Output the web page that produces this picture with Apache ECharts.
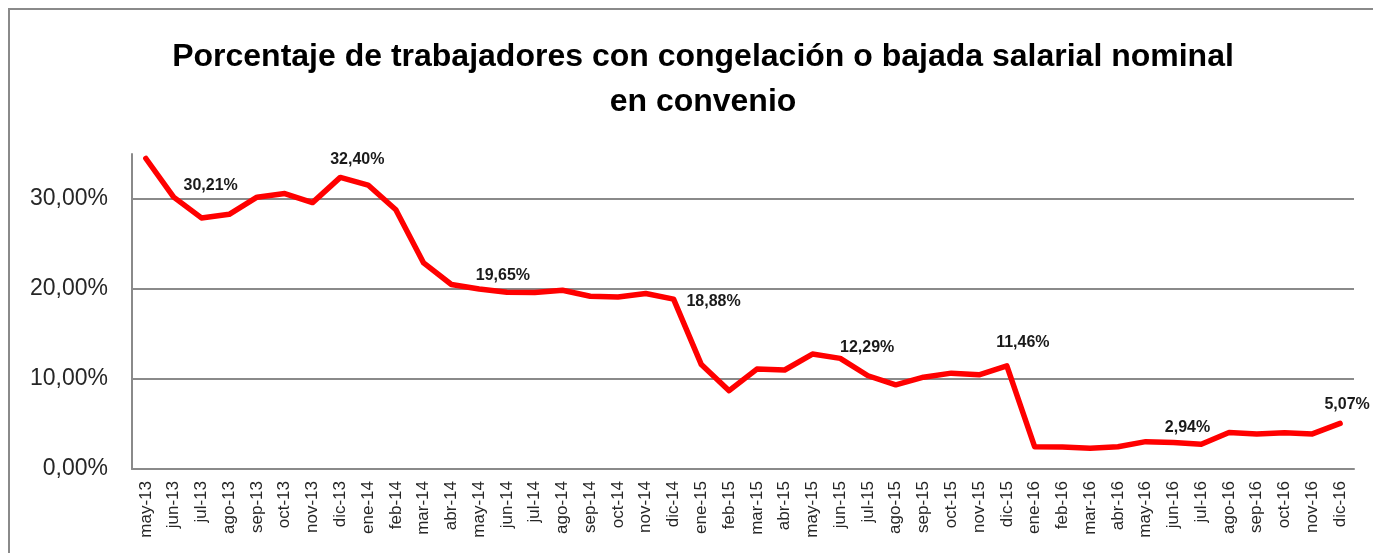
<!DOCTYPE html>
<html>
<head>
<meta charset="utf-8">
<script src="https://cdn.jsdelivr.net/npm/echarts@6/dist/echarts.min.js"></script>
<style>
html, body { margin: 0; padding: 0; background: #fff; }
#chart { position: absolute; left: 0; top: 0; width: 1373px; height: 553px; }
#frame { position: absolute; left: 8px; top: 8px; right: 0; bottom: 0;
         border-left: 2px solid #8a8a8a; border-top: 2px solid #8a8a8a; pointer-events: none; }
</style>
</head>
<body>
<div id="chart"></div>
<div id="frame"></div>
<script>
var months = ['may-13','jun-13','jul-13','ago-13','sep-13','oct-13','nov-13','dic-13',
    'ene-14','feb-14','mar-14','abr-14','may-14','jun-14','jul-14','ago-14','sep-14','oct-14','nov-14','dic-14',
    'ene-15','feb-15','mar-15','abr-15','may-15','jun-15','jul-15','ago-15','sep-15','oct-15','nov-15','dic-15',
    'ene-16','feb-16','mar-16','abr-16','may-16','jun-16','jul-16','ago-16','sep-16','oct-16','nov-16','dic-16'];

var porcentaje = [34.5, 30.21, 27.9, 28.3, 30.2, 30.6, 29.6, 32.40,
    31.55, 28.8, 22.9, 20.5, 20.0, 19.65, 19.6, 19.86, 19.2, 19.1, 19.5, 18.88,
    11.6, 8.7, 11.1, 11.0, 12.77, 12.29, 10.36, 9.35, 10.2, 10.65, 10.47, 11.46,
    2.48, 2.45, 2.3, 2.48, 3.04, 2.94, 2.75, 4.05, 3.9, 4.04, 3.9, 5.07];

// months that carry a value label
var labelled = ['jun-13', 'dic-13', 'jun-14', 'dic-14', 'jun-15', 'dic-15', 'jun-16', 'dic-16'];

// label placement relative to the point
var labelOffset = {
    'jun-13': [37, -12], 'dic-13': [17, -18], 'jun-14': [-4, -17], 'dic-14': [40, 3],
    'jun-15': [27, -11], 'dic-15': [16, -23], 'jun-16': [14, -15], 'dic-16': [7, -19]
};

function pct(v) {
    return v.toFixed(2).replace('.', ',') + '%';
}

var seriesData = porcentaje.map(function (v, i) {
    var m = months[i];
    if (labelled.indexOf(m) < 0) return v;
    return {
        value: v,
        label: {
            show: true,
            position: 'inside',
            offset: labelOffset[m],
            formatter: function (p) { return pct(p.value); },
            fontFamily: 'Liberation Sans, Arial, sans-serif',
            fontWeight: 'bold',
            fontSize: 16,
            color: '#1a1a1a'
        }
    };
});

var option = {
    animation: false,
    title: {
        text: 'Porcentaje de trabajadores con congelación o bajada salarial nominal\nen convenio',
        left: 698,
        textAlign: 'center',
        top: 30,
        textStyle: {
            fontFamily: 'Liberation Sans, Arial, sans-serif',
            fontWeight: 'bold',
            fontSize: 32,
            lineHeight: 45,
            color: '#000'
        }
    },
    grid: {
        left: 132,
        right: 19,
        top: 154,
        bottom: 84,
        containLabel: false
    },
    xAxis: {
        type: 'category',
        data: months,
        boundaryGap: true,
        axisLine: { lineStyle: { color: '#8a8a8a', width: 2 } },
        axisTick: { show: false },
        axisLabel: {
            interval: 0,
            rotate: 90,
            margin: 12,
            fontFamily: 'Liberation Sans, Arial, sans-serif',
            fontSize: 17,
            color: '#262626'
        }
    },
    yAxis: {
        type: 'value',
        min: 0,
        max: 35,
        interval: 10,
        axisLine: { show: true, lineStyle: { color: '#8a8a8a', width: 2 } },
        axisTick: { show: false },
        axisLabel: {
            margin: 24,
            fontFamily: 'Liberation Sans, Arial, sans-serif',
            fontSize: 23,
            color: '#262626',
            formatter: function (v) { return v > 30 ? '' : pct(v); }
        },
        splitLine: {
            show: true,
            lineStyle: { color: ['#8a8a8a', '#8a8a8a', '#8a8a8a', '#8a8a8a', 'rgba(0,0,0,0)'], width: 2 }
        }
    },
    series: [{
        name: 'Porcentaje',
        type: 'line',
        data: seriesData,
        symbol: 'circle',
        symbolSize: 0,
        showSymbol: true,
        itemStyle: { color: '#ff0000' },
        lineStyle: { color: '#ff0000', width: 5.5, join: 'round', cap: 'round' }
    }]
};

var chart = echarts.init(document.getElementById('chart'));
chart.setOption(option);
</script>
</body>
</html>
